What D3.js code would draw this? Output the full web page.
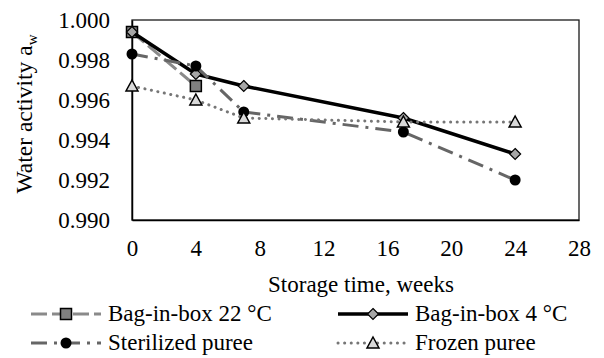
<!DOCTYPE html>
<html>
<head>
<meta charset="utf-8">
<script src="https://cdn.jsdelivr.net/npm/d3@7"></script>
<style>
    body { margin: 0; background: #fff; }
</style>
</head>
<body>
<svg id="svg" width="604" height="358"></svg>
<script>
// data
var weeks = [0, 4, 7, 17, 24];
var bag22 = [0.9994, 0.9967];
var bag4 = [0.9994, 0.9973, 0.9967, 0.9951, 0.9933];
var sterilized = [0.9983, 0.9977, 0.9954, 0.9944, 0.9920];
var frozen = [0.9967, 0.9960, 0.9951, 0.9949, 0.9949];
var xTicks = [0, 4, 8, 12, 16, 20, 24, 28];
var yTicks = [0.990, 0.992, 0.994, 0.996, 0.998, 1.000];

var FONT = "'Liberation Serif'";

var series = [
    {name: "Bag-in-box 22 \u00B0C", values: bag22, color: "#8a8a8a", width: 3, dash: "16,5", marker: "square", fill: "#808080"},
    {name: "Bag-in-box 4 \u00B0C", values: bag4, color: "#000", width: 3.5, dash: null, marker: "diamond", fill: "#a6a6a6"},
    {name: "Sterilized puree", values: sterilized, color: "#666666", width: 3, dash: "16,7,3,7", marker: "circle", fill: "#000"},
    {name: "Frozen puree", values: frozen, color: "#767676", width: 3, dash: "0.1,6.5", marker: "triangle", fill: "#d9d9d9"}
];

var svg = d3.select("svg"),
    margin = {top: 20, right: 25, bottom: 138, left: 132},
    width = 604 - margin.left - margin.right,
    height = 358 - margin.top - margin.bottom;

var g = svg.append("g").attr("transform", "translate(" + margin.left + "," + margin.top + ")");

var x = d3.scaleLinear().domain([0, 28]).range([0, width]);
var y = d3.scaleLinear().domain([0.990, 1.000]).range([height, 0]);

// plot frame
g.append("rect")
    .attr("width", width)
    .attr("height", height)
    .attr("fill", "none")
    .attr("stroke", "#1a1a1a")
    .attr("stroke-width", 1.3);

// axes (no tick marks, only labels)
var xAxis = g.append("g")
    .attr("transform", "translate(0," + height + ")")
    .call(d3.axisBottom(x).tickValues(xTicks).tickSize(0).tickPadding(20).tickFormat(d3.format("d")));
var yAxis = g.append("g")
    .call(d3.axisLeft(y).tickValues(yTicks).tickSize(0).tickPadding(22).tickFormat(d3.format(".3f")));
[xAxis, yAxis].forEach(function (a) {
    a.select(".domain").attr("stroke", "#000").attr("stroke-width", 1.5);
    a.selectAll("text")
        .style("font-family", FONT)
        .style("font-size", "23px")
        .attr("fill", "#000");
});

// axis titles
svg.append("text")
    .attr("x", 361)
    .attr("y", 292)
    .attr("text-anchor", "middle")
    .style("font-family", FONT)
    .style("font-size", "23px")
    .text("Storage time, weeks");

var yt = svg.append("text")
    .attr("transform", "translate(32,114) rotate(-90)")
    .attr("text-anchor", "middle")
    .style("font-family", FONT)
    .style("font-size", "23.5px");
yt.append("tspan").text("Water activity a");
yt.append("tspan").attr("dy", 5).style("font-size", "15px").text("w");

var line = d3.line()
    .x(function (d, i) { return x(weeks[i]); })
    .y(function (d) { return y(d); });

function drawMarker(sel, type, fill) {
    if (type == "circle") {
        sel.append("circle").attr("r", 5.5).attr("fill", fill);
    } else if (type == "square") {
        sel.append("rect").attr("x", -5.5).attr("y", -5.5).attr("width", 11).attr("height", 11)
            .attr("fill", fill).attr("stroke", "#000").attr("stroke-width", 1.5);
    } else if (type == "diamond") {
        sel.append("path").attr("d", "M0,-5.5L5.5,0L0,5.5L-5.5,0Z")
            .attr("fill", fill).attr("stroke", "#000").attr("stroke-width", 1.2);
    } else if (type == "triangle") {
        sel.append("path").attr("d", "M0,-6L6,5L-6,5Z")
            .attr("fill", fill).attr("stroke", "#000").attr("stroke-width", 1.5);
    }
}

// lines first, then markers of each series in order
series.forEach(function (s) {
    g.append("path")
        .datum(s.values)
        .attr("fill", "none")
        .attr("stroke", s.color)
        .attr("stroke-width", s.width)
        .attr("stroke-dasharray", s.dash)
        .attr("stroke-linecap", s.marker == "triangle" ? "round" : "butt")
        .attr("stroke-linejoin", "round")
        .attr("d", line);
    s.values.forEach(function (v, i) {
        var m = g.append("g").attr("transform", "translate(" + x(weeks[i]) + "," + y(v) + ")");
        drawMarker(m, s.marker, s.fill);
    });
});

// legend, two columns
var legendPos = [[31, 314], [338, 314], [31, 343], [338, 343]];
series.forEach(function (s, i) {
    var lg = svg.append("g").attr("transform", "translate(" + legendPos[i][0] + "," + legendPos[i][1] + ")");
    lg.append("line")
        .attr("x1", 0).attr("x2", 70)
        .attr("stroke", s.color)
        .attr("stroke-width", s.width)
        .attr("stroke-dasharray", s.dash)
        .attr("stroke-linecap", s.marker == "triangle" ? "round" : "butt");
    var m = lg.append("g").attr("transform", "translate(35,0)");
    drawMarker(m, s.marker, s.fill);
    lg.append("text")
        .attr("x", 77)
        .attr("y", 7)
        .style("font-family", FONT)
        .style("font-size", "23px")
        .text(s.name);
});
</script>
</body>
</html>
